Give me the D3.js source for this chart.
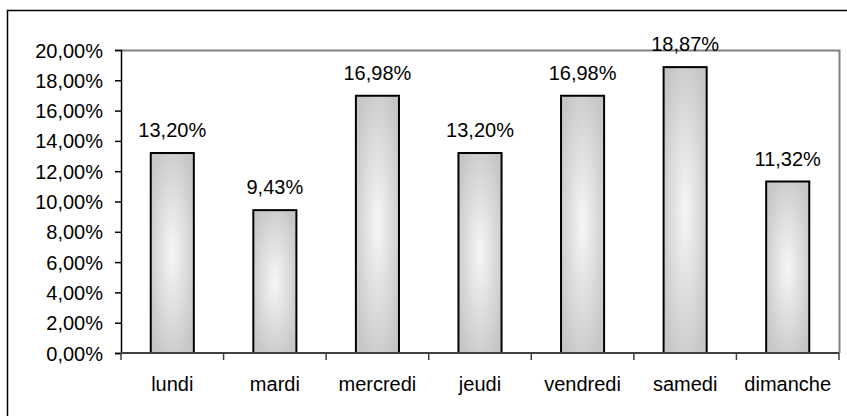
<!DOCTYPE html>
<html>
<head>
<meta charset="utf-8">
<script src="https://cdn.jsdelivr.net/npm/d3@7"></script>
<style>
  html, body { margin: 0; padding: 0; background: #fff; }
  svg { display: block; }
  text { font-family: "Liberation Sans", Arial, sans-serif; fill: #000; }
</style>
</head>
<body>
<svg id="chart" width="847" height="416"></svg>
<script>
// Répartition par jour de la semaine
const days = ["lundi", "mardi", "mercredi", "jeudi", "vendredi", "samedi", "dimanche"];
const shares = [13.20, 9.43, 16.98, 13.20, 16.98, 18.87, 11.32];
const shareLabels = ["13,20%", "9,43%", "16,98%", "13,20%", "16,98%", "18,87%", "11,32%"];
const yTicks = [0, 2, 4, 6, 8, 10, 12, 14, 16, 18, 20];
const yTickLabels = ["0,00%", "2,00%", "4,00%", "6,00%", "8,00%", "10,00%", "12,00%", "14,00%", "16,00%", "18,00%", "20,00%"];

const svg = d3.select("#chart");
const plotLeft = 121, plotRight = 839, plotTop = 50, plotBottom = 353;
const fontSize = 20;

const x = d3.scaleBand().domain(days).range([plotLeft, plotRight]).paddingInner(0.58).paddingOuter(0.29);
const y = d3.scaleLinear().domain([0, 20]).range([plotBottom, plotTop]);

// gradient: light centre fading to grey edges
const defs = svg.append("defs");
const grad = defs.append("radialGradient").attr("id", "barFill")
  .attr("cx", 0.5).attr("cy", 0.5).attr("r", 0.6);
grad.append("stop").attr("offset", "0%").attr("stop-color", "#f6f6f6");
grad.append("stop").attr("offset", "100%").attr("stop-color", "#c6c6c6");

// outer frame
svg.append("rect").attr("x", 7.5).attr("y", 10.5).attr("width", 900).attr("height", 500)
  .attr("fill", "#fff").attr("stroke", "#000").attr("stroke-width", 1.5);

// plot area border (top and right, grey)
svg.append("path")
  .attr("d", `M${plotLeft},${plotTop + 0.5}H${plotRight + 0.5}V${plotBottom}`)
  .attr("fill", "none").attr("stroke", "#808080").attr("stroke-width", 2);

// bars
svg.append("g").selectAll("rect").data(days).join("rect")
  .attr("x", d => x(d))
  .attr("y", (d, i) => y(shares[i]))
  .attr("width", x.bandwidth())
  .attr("height", (d, i) => y(0) - y(shares[i]))
  .attr("fill", "url(#barFill)")
  .attr("stroke", "#000").attr("stroke-width", 2);

// value labels
svg.append("g").selectAll("text").data(days).join("text")
  .attr("x", d => x(d) + x.bandwidth() / 2)
  .attr("y", (d, i) => y(shares[i]) - 16)
  .attr("text-anchor", "middle")
  .attr("font-size", fontSize)
  .text((d, i) => shareLabels[i]);

// y axis
const yAxis = d3.axisLeft(y).tickValues(yTicks).tickSize(6).tickPadding(12)
  .tickFormat((d, i) => yTickLabels[i]);
const gy = svg.append("g").attr("transform", `translate(${plotLeft},0)`).call(yAxis);
gy.select(".domain").attr("stroke", "#000").attr("stroke-width", 1.5);
gy.selectAll(".tick line").attr("stroke", "#000").attr("stroke-width", 1.5);
gy.selectAll(".tick text").attr("font-size", fontSize).attr("font-family", "Liberation Sans, Arial, sans-serif").attr("dy", "0.35em");

// x axis: baseline, boundary ticks, centred labels
const step = x.step();
const boundaries = d3.range(days.length + 1).map(i => x.range()[0] + i * step);
svg.append("line").attr("x1", plotLeft).attr("x2", plotRight).attr("y1", y(0)).attr("y2", y(0))
  .attr("stroke", "#404040").attr("stroke-width", 2);
svg.append("g").selectAll("line").data(boundaries).join("line")
  .attr("x1", d => d).attr("x2", d => d)
  .attr("y1", y(0)).attr("y2", y(0) + 7)
  .attr("stroke", "#404040").attr("stroke-width", 1.5);
svg.append("g").selectAll("text").data(days).join("text")
  .attr("x", d => x(d) + x.bandwidth() / 2)
  .attr("y", y(0) + 38)
  .attr("text-anchor", "middle")
  .attr("font-size", fontSize)
  .text(d => d);
</script>
</body>
</html>
